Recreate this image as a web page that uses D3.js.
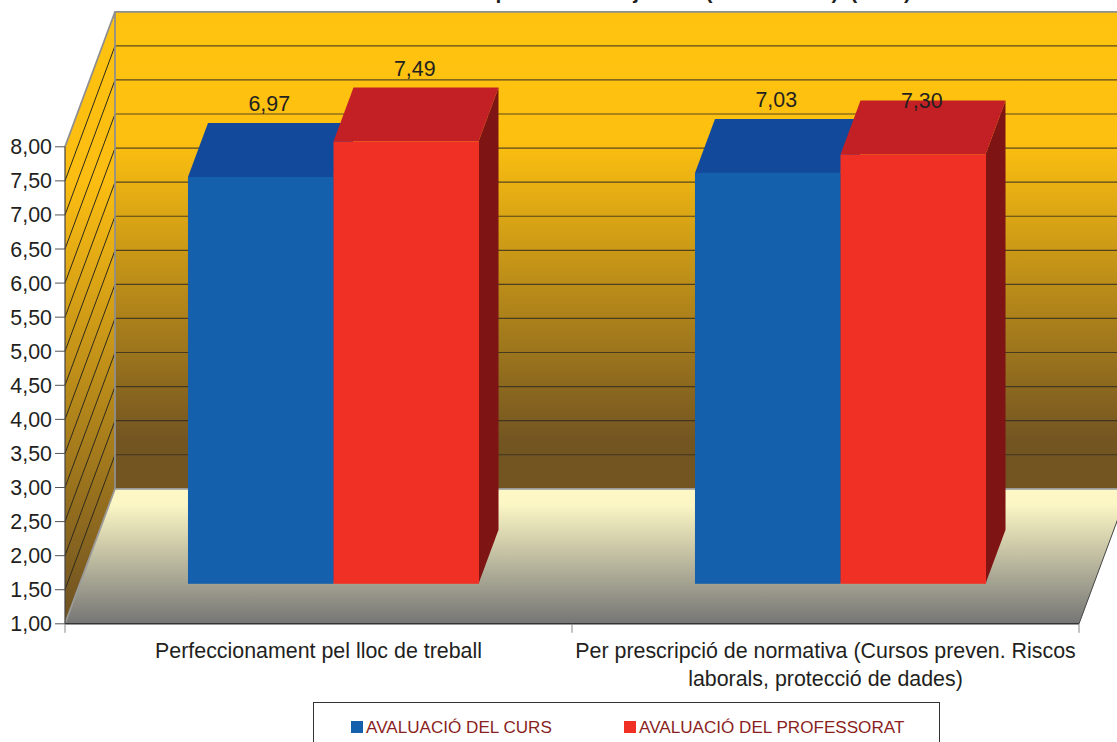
<!DOCTYPE html>
<html>
<head>
<meta charset="utf-8">
<script src="https://d3js.org/d3.v7.min.js"></script>
<style>
html, body { margin: 0; padding: 0; background: #fff; overflow: hidden; }
text { font-family: "Liberation Sans", Arial, sans-serif; }
</style>
</head>
<body>
<div id="chart"></div>
<script>
// Dades
const categories = ['Perfeccionament pel lloc de treball', 'Per prescripció de normativa (Cursos preven. Riscos|laborals, protecció de dades)'];
const series = ['AVALUACIÓ DEL CURS', 'AVALUACIÓ DEL PROFESSORAT'];
const valorsCurs = [6.97, 7.03];
const valorsProfessorat = [7.49, 7.30];
const ticks = [1, 1.5, 2, 2.5, 3, 3.5, 4, 4.5, 5, 5.5, 6, 6.5, 7, 7.5, 8];
// Títol il·legible a l'original (tallat a dalt): paraules suposades, només es veuen els trossos inferiors
const titol = 'Avaluació per àmbit i objectius (Formacions)\u00a0\u00a0(2012)';

const width = 1117, height = 742;
const coma = d => d.toFixed(2).replace('.', ',');

const svg = d3.select('#chart').append('svg')
	.attr('width', width).attr('height', height)
	.style('display', 'block');

const y = d3.scaleLinear().domain([1, 8]).range([623.8, 146.8]);
const x0 = d3.scaleBand().domain(categories).range([65, 1079]);
const x1 = d3.scaleBand().domain(series).range([0, x0.bandwidth()]).paddingOuter(0.742);

// profunditat 3D
const fons = { dx: 50, dy: -135 };
const barraIni = { dx: 15, dy: -40 };
const barraFons = { dx: 35, dy: -94 };

const defs = svg.append('defs');
function gradient(id, y1, y2, stops) {
	const g = defs.append('linearGradient').attr('id', id)
		.attr('gradientUnits', 'userSpaceOnUse')
		.attr('x1', 0).attr('x2', 0).attr('y1', y1).attr('y2', y2);
	stops.forEach(s => g.append('stop').attr('offset', s[0]).attr('stop-color', s[1]));
}
gradient('paret', y(8) + fons.dy, y(1) + fons.dy, [[0, '#ffc30f'], [0.27, '#fdc010'], [0.9, '#735522'], [1, '#735522']]);
gradient('lateral', y(8) + fons.dy, y(1), [[0, '#ffc30f'], [0.28, '#fbbd12'], [0.97, '#735522'], [1, '#735522']]);
gradient('terra', y(1) + fons.dy, y(1), [[0, '#fdf8c6'], [0.12, '#fbf6c4'], [1, '#757575']]);

const poly = pts => pts.map(p => p.join(',')).join(' ');
const xL = x0.range()[0], xR = x0.range()[1];

// Títol (tallat per la part superior)
svg.append('text').attr('x', 911).attr('y', -1.5)
	.attr('text-anchor', 'end').attr('font-size', 21).attr('font-weight', 'bold')
	.attr('fill', '#231f20').text(titol);

// Terra
svg.append('polygon')
	.attr('points', poly([[xL, y(1)], [xR, y(1)], [xR + fons.dx, y(1) + fons.dy], [xL + fons.dx, y(1) + fons.dy]]))
	.attr('fill', 'url(#terra)');
svg.append('line').attr('x1', xR).attr('y1', y(1)).attr('x2', xR + fons.dx).attr('y2', y(1) + fons.dy)
	.attr('stroke', '#444').attr('stroke-width', 1);

// Paret del fons
svg.append('rect')
	.attr('x', xL + fons.dx).attr('y', y(8) + fons.dy)
	.attr('width', xR - xL).attr('height', y(1) - y(8))
	.attr('fill', 'url(#paret)');

// Paret lateral
svg.append('polygon')
	.attr('points', poly([[xL, y(1)], [xL + fons.dx, y(1) + fons.dy], [xL + fons.dx, y(8) + fons.dy], [xL, y(8)]]))
	.attr('fill', 'url(#lateral)');

// Graella
const graella = ticks.slice(1, -1);
svg.append('g').selectAll('line').data(graella).enter().append('line')
	.attr('x1', xL + fons.dx).attr('x2', xR + fons.dx)
	.attr('y1', d => y(d) + fons.dy).attr('y2', d => y(d) + fons.dy)
	.attr('stroke', '#332c20').attr('stroke-opacity', 0.8).attr('stroke-width', 1.2);
svg.append('g').selectAll('line').data(graella).enter().append('line')
	.attr('x1', xL).attr('x2', xL + fons.dx)
	.attr('y1', d => y(d)).attr('y2', d => y(d) + fons.dy)
	.attr('stroke', '#2e2a1c').attr('stroke-width', 1);

// Vores grises
svg.append('polyline')
	.attr('points', poly([[xL, y(8)], [xL + fons.dx, y(8) + fons.dy], [xR + fons.dx, y(8) + fons.dy]]))
	.attr('fill', 'none').attr('stroke', '#8f8f8f').attr('stroke-width', 1.8);
svg.append('polyline')
	.attr('points', poly([[xL, y(1)], [xL + fons.dx, y(1) + fons.dy], [xR + fons.dx, y(1) + fons.dy]]))
	.attr('fill', 'none').attr('stroke', '#9a9a9a').attr('stroke-width', 1.8);
svg.append('line')
	.attr('x1', xL + fons.dx).attr('x2', xL + fons.dx)
	.attr('y1', y(8) + fons.dy).attr('y2', y(1) + fons.dy)
	.attr('stroke', '#8f8f8f').attr('stroke-width', 1.8);

// Barres
const colors = {
	[series[0]]: { front: '#1560ac', top: '#13499b', side: '#0f3f7c' },
	[series[1]]: { front: '#f03024', top: '#c32026', side: '#7f1414' }
};
const files = [];
categories.forEach((c, i) => {
	files.push({ c, s: series[0], v: valorsCurs[i] });
	files.push({ c, s: series[1], v: valorsProfessorat[i] });
});

const barres = svg.append('g').selectAll('g').data(files).enter().append('g');
const bx = d => x0(d.c) + x1(d.s) + barraIni.dx;
const by = d => y(d.v) + barraIni.dy;
const base = y(1) + barraIni.dy;
const prof = { dx: barraFons.dx - barraIni.dx, dy: barraFons.dy - barraIni.dy };

barres.append('polygon').attr('fill', d => colors[d.s].side)
	.attr('points', d => {
		const r = bx(d) + x1.bandwidth() - 0.5;
		return poly([[r, base], [r + prof.dx, base + prof.dy], [r + prof.dx, by(d) + prof.dy], [r, by(d)]]);
	});
barres.append('polygon').attr('fill', d => colors[d.s].top)
	.attr('points', d => {
		const r = bx(d) + x1.bandwidth() - 0.5;
		return poly([[bx(d), by(d)], [r, by(d)], [r + prof.dx, by(d) + prof.dy], [bx(d) + prof.dx, by(d) + prof.dy]]);
	});
barres.append('rect').attr('fill', d => colors[d.s].front)
	.attr('x', bx).attr('y', by)
	.attr('width', x1.bandwidth()).attr('height', d => base - by(d));

// Etiquetes de valor (el 7,30 queda a sobre de la cara superior, com a l'original)
barres.append('text')
	.attr('x', d => bx(d) + x1.bandwidth() / 2 + 8.5)
	.attr('y', d => by(d) + prof.dy + (d.v === 7.30 ? 7.5 : -12))
	.attr('text-anchor', 'middle').attr('font-size', 21.4).attr('fill', '#231f20')
	.text(d => coma(d.v));

// Eixos
svg.append('line').attr('x1', xL).attr('x2', xL).attr('y1', y(8)).attr('y2', y(1))
	.attr('stroke', '#444').attr('stroke-width', 1.2);
svg.append('line').attr('x1', xL).attr('x2', xR).attr('y1', y(1)).attr('y2', y(1))
	.attr('stroke', '#333').attr('stroke-width', 1.4);

const eixY = svg.append('g').selectAll('g').data(ticks).enter().append('g')
	.attr('transform', d => `translate(0,${y(d)})`);
eixY.append('line').attr('x1', 55).attr('x2', xL).attr('stroke', '#555').attr('stroke-width', 1);
eixY.append('text').attr('x', 52).attr('y', 7.5).attr('text-anchor', 'end')
	.attr('font-size', 21.4).attr('fill', '#231f20').text(d => coma(d));

svg.append('g').selectAll('line').data([xL, x0(categories[1]), xR]).enter().append('line')
	.attr('x1', d => d).attr('x2', d => d).attr('y1', y(1)).attr('y2', y(1) + 9)
	.attr('stroke', '#888').attr('stroke-width', 1);

const etiquetes = svg.append('g').selectAll('text').data(categories).enter().append('text')
	.attr('text-anchor', 'middle').attr('font-size', 21.4).attr('fill', '#231f20');
etiquetes.each(function(d) {
	d.split('|').forEach((linia, i) => {
		d3.select(this).append('tspan')
			.attr('x', x0(d) + x0.bandwidth() / 2)
			.attr('y', 658 + i * 27.5)
			.text(linia);
	});
});

// Llegenda
svg.append('rect').attr('x', 313.5).attr('y', 702.5).attr('width', 626).attr('height', 50)
	.attr('fill', '#fff').attr('stroke', '#333').attr('stroke-width', 1);
const llegendaX = d3.scaleOrdinal().domain(series).range([351, 624]);
const llegenda = svg.append('g').selectAll('g').data(series).enter().append('g')
	.attr('transform', d => `translate(${llegendaX(d)},721)`);
llegenda.append('rect').attr('width', 12).attr('height', 12)
	.attr('fill', d => colors[d].front);
llegenda.append('text').attr('x', 15).attr('y', 11.5)
	.attr('font-size', 17.1).attr('fill', '#8a1f22').text(d => d);
</script>
</body>
</html>
